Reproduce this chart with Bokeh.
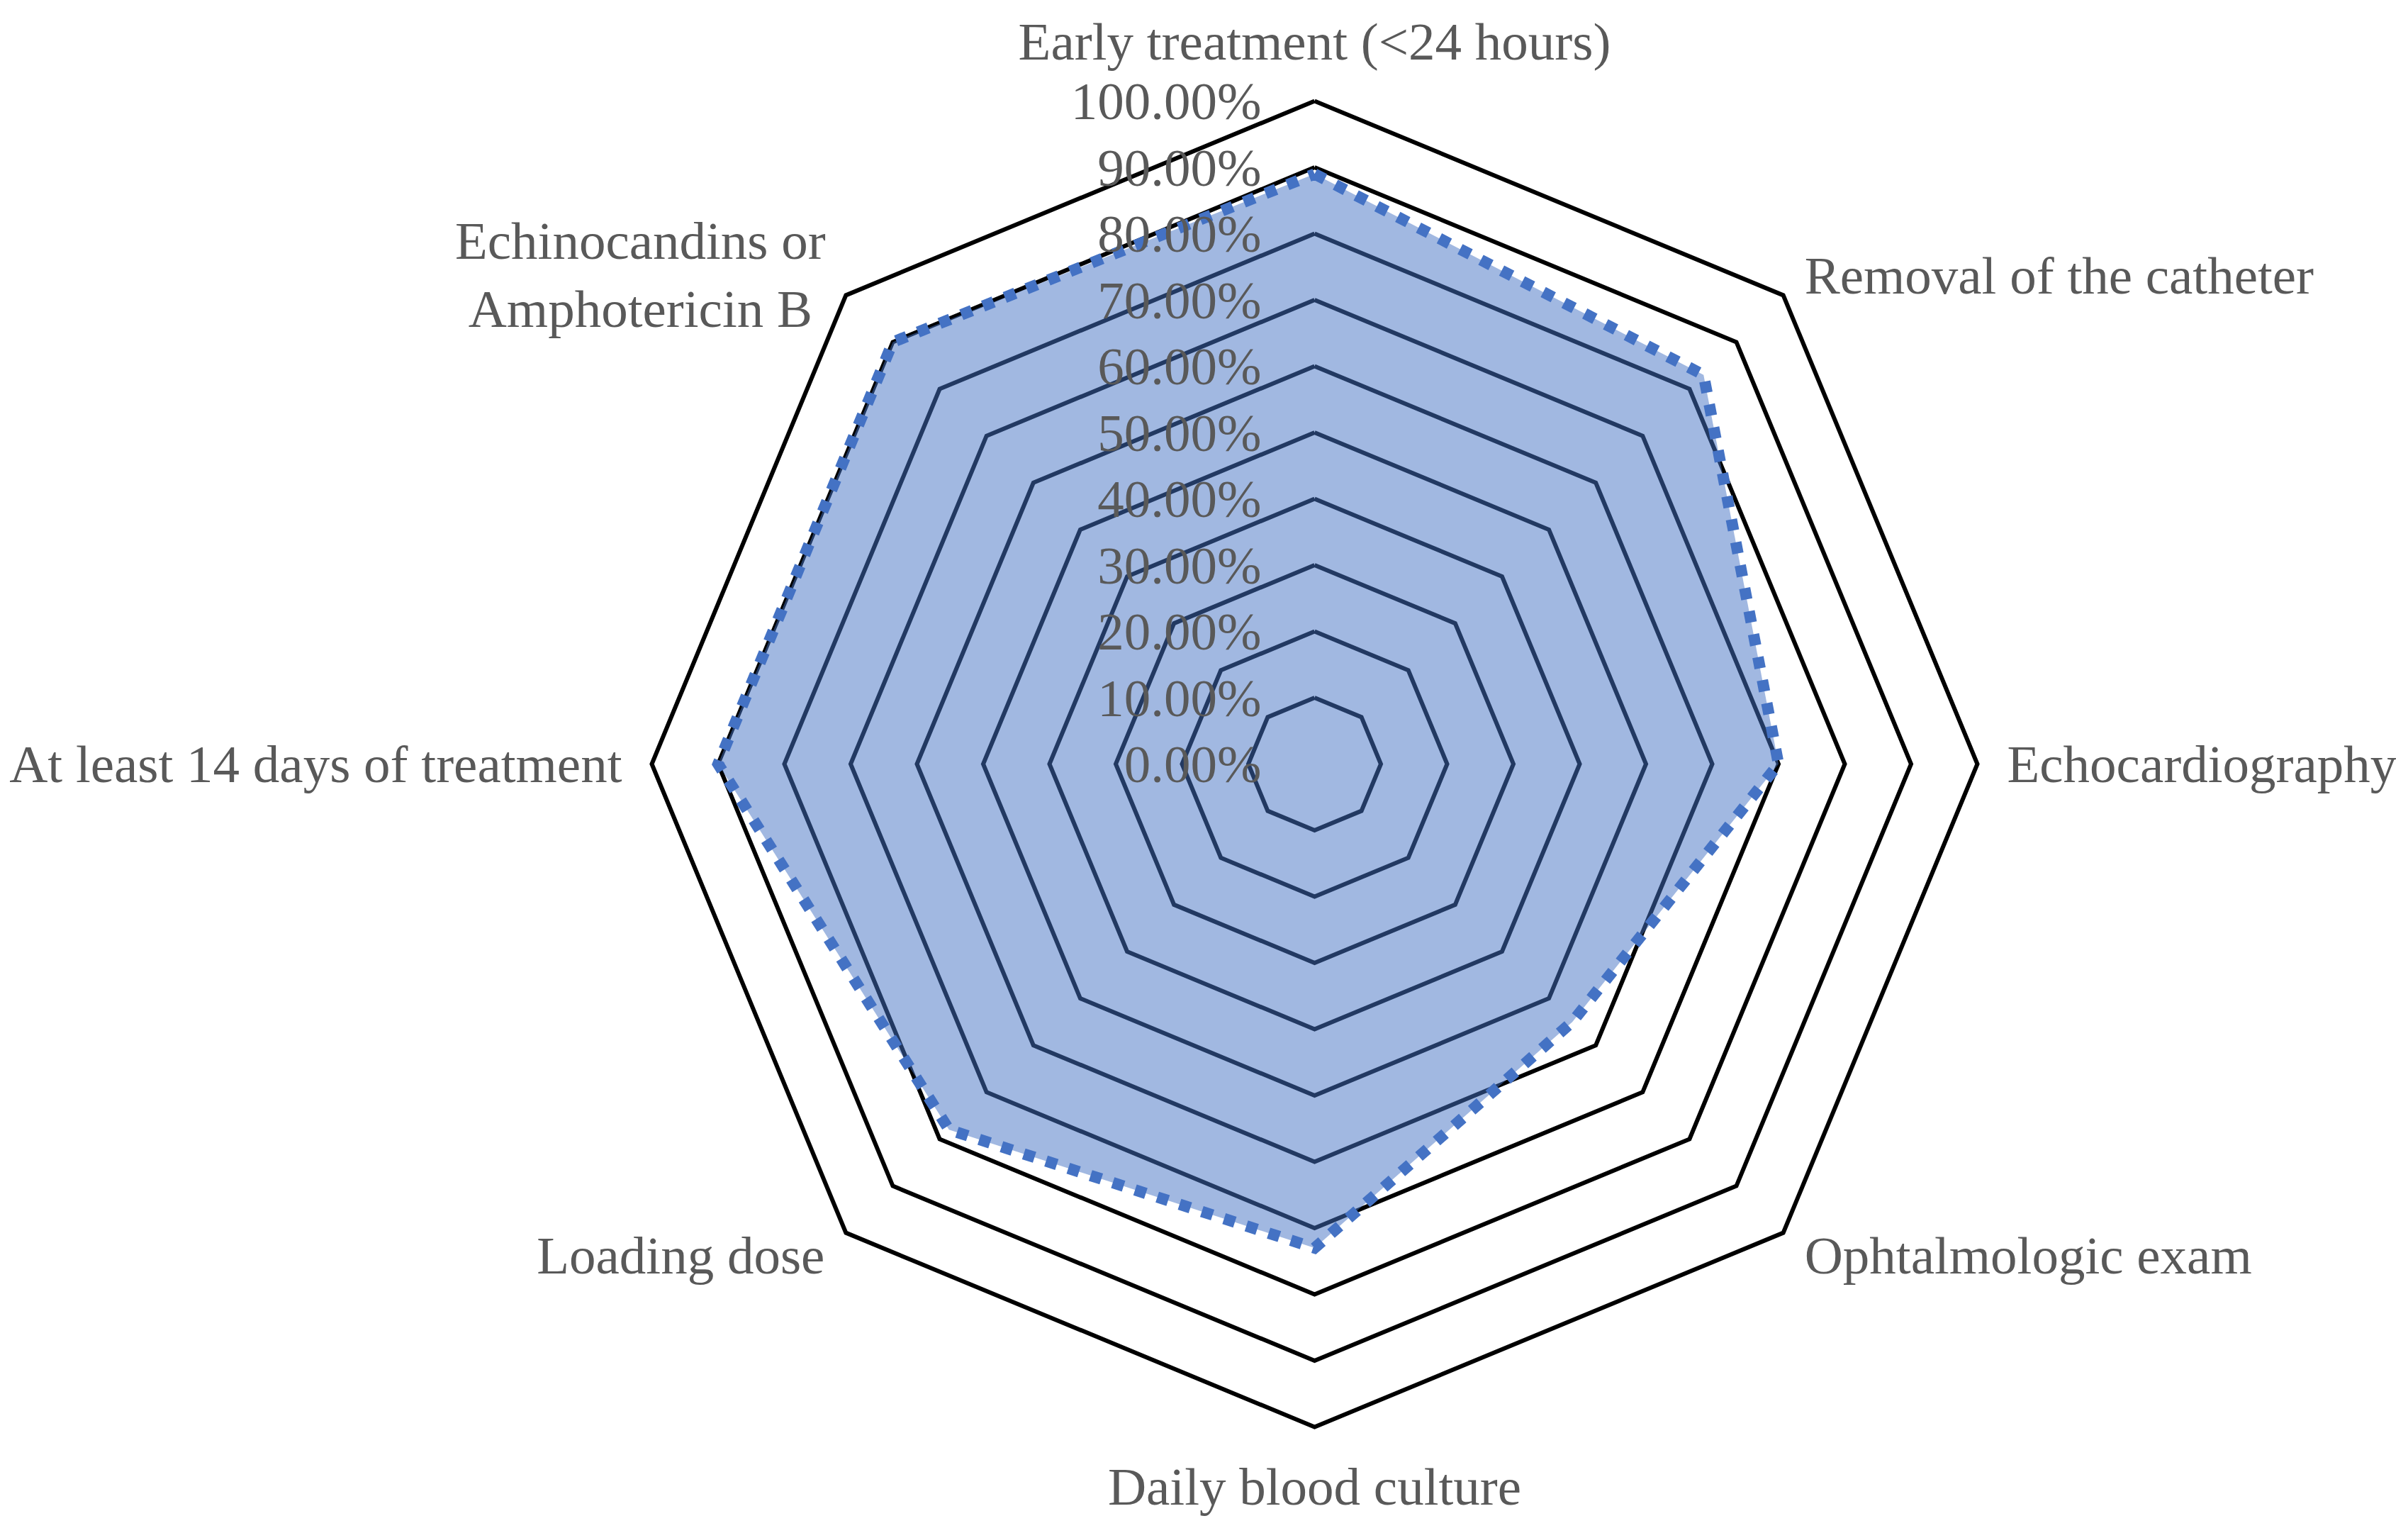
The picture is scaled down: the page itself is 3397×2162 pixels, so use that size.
import math
from bokeh.plotting import figure
from bokeh.models import Range1d, ColumnDataSource
from bokeh.core.properties import value
from bokeh.embed import file_html
from bokeh.resources import INLINE

# ---- data ----
categories = [
    "Early treatment (<24 hours)",
    "Removal of the catheter",
    "Echocardiography",
    "Ophtalmologic exam",
    "Daily blood culture",
    "Loading dose",
    "At least 14 days of treatment",
    "Echinocandins or\nAmphotericin B",
]
values = [0.89, 0.83, 0.70, 0.55, 0.73, 0.78, 0.90, 0.90]
ring_levels = [0.1, 0.2, 0.3, 0.4, 0.5, 0.6, 0.7, 0.8, 0.9, 1.0]
tick_values = [0.0, 0.1, 0.2, 0.3, 0.4, 0.5, 0.6, 0.7, 0.8, 0.9, 1.0]
tick_labels = ["%.2f%%" % (v * 100) for v in tick_values]

# ---- layout (pixels) ----
W, H = 3380, 2144
R_PX = 935.0          # radius of 100% ring in px
CX, CY = 1854, 1077   # centre inside the figure
px = 1.0 / R_PX

x0 = -CX * px
y1 = CY * px
n = len(categories)
angles = [math.pi / 2 - 2 * math.pi * k / n for k in range(n)]

p = figure(width=W, height=H, output_backend="svg", toolbar_location=None,
           x_range=Range1d(x0, x0 + W * px), y_range=Range1d(y1 - H * px, y1),
           min_border=0, outline_line_color=None)
p.axis.visible = False
p.grid.visible = False
p.background_fill_color = "white"
p.border_fill_color = "white"

# grid rings
xs, ys = [], []
for r in ring_levels:
    xs.append([r * math.cos(a) for a in angles] + [r * math.cos(angles[0])])
    ys.append([r * math.sin(a) for a in angles] + [r * math.sin(angles[0])])
p.multi_line(xs=xs, ys=ys, line_color="black", line_width=6, line_join="miter")

# data area
dx = [v * math.cos(a) for v, a in zip(values, angles)]
dy = [v * math.sin(a) for v, a in zip(values, angles)]
p.patch(dx, dy, fill_color="#4472C4", fill_alpha=0.5, line_color=None)
p.line(dx + [dx[0]], dy + [dy[0]], line_color="#4472C4", line_width=16,
       line_dash="16 17", line_cap="butt", line_join="miter")

FONT = value("Liberation Serif")
GREY = "#595959"

# tick labels along the top axis
p.text(x=[-75 * px] * len(tick_values), y=tick_values, text=tick_labels,
       text_font=FONT, text_font_size="75px", text_color=GREY,
       text_align="right", text_baseline="middle")

# category labels
offsets = [  # (dx px, dy px, align)
    (0, 84, "center"),
    (30, 28, "left"),
    (42, 0, "left"),
    (30, -32, "left"),
    (0, -84, "center"),
    (-30, -32, "right"),
    (-42, 0, "right"),
    (-290, 29, "center"),
]
for cat, a, (ox, oy, al) in zip(categories, angles, offsets):
    src = ColumnDataSource(dict(x=[math.cos(a) + ox * px], y=[math.sin(a) + oy * px], t=[cat]))
    p.text(x="x", y="y", text="t", source=src, text_font=FONT, text_font_size="75px",
           text_color=GREY, text_align=al, text_baseline="middle", text_line_height=1.15)

open("out.html", "w").write(file_html(p, INLINE))
